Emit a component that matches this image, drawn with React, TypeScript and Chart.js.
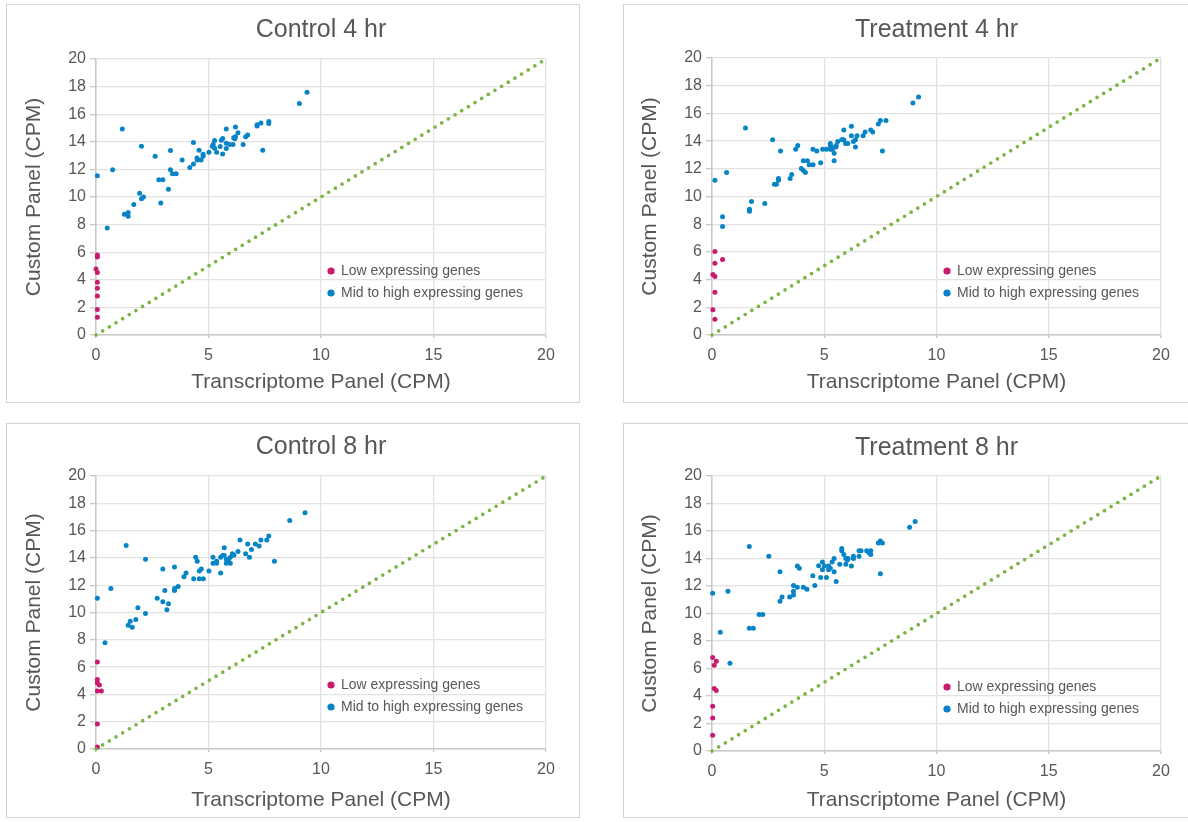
import React, { useEffect, useRef } from "react";
import { Chart, registerables } from "chart.js";

Chart.register(...registerables);

type Pt = [number, number];

// ---- Data ----
const control4Low: Pt[] = [
  [0.06, 5.8], [0.06, 5.66], [0.0, 4.79], [0.06, 4.52], [0.06, 3.82],
  [0.06, 3.38], [0.06, 2.82], [0.06, 1.85], [0.06, 1.29],
];
const control4Mid: Pt[] = [
  [0.06, 11.54], [0.5, 7.75], [0.74, 11.98], [1.17, 14.92], [1.26, 8.75],
  [1.43, 8.87], [1.43, 8.6], [1.68, 9.45], [1.94, 10.28], [2.02, 13.68],
  [2.02, 9.87], [2.11, 10.0], [2.63, 12.95], [2.79, 11.25], [2.97, 11.25],
  [2.88, 9.57], [3.22, 10.57], [3.31, 13.37], [3.31, 11.98], [3.4, 11.69],
  [3.56, 11.69], [3.83, 12.69], [4.17, 12.13], [4.33, 13.95], [4.33, 12.39],
  [4.49, 12.83], [4.5, 12.69], [4.67, 12.69], [4.58, 13.39], [4.76, 13.1],
  [4.76, 12.95], [5.02, 13.24], [5.17, 13.68], [5.21, 13.8], [5.27, 13.54],
  [5.27, 14.09], [5.36, 13.24], [5.52, 13.66], [5.57, 14.12], [5.63, 13.12],
  [5.63, 14.24], [5.79, 14.92], [5.79, 13.9], [5.79, 13.51], [5.94, 13.8],
  [6.09, 13.8], [6.12, 14.29], [6.17, 14.22], [6.2, 14.36], [6.2, 15.07],
  [6.31, 14.65], [6.54, 13.8], [6.65, 14.36], [6.74, 14.5], [7.16, 15.14],
  [7.16, 15.24], [7.33, 15.36], [7.41, 13.39], [7.68, 15.48], [7.68, 15.33],
  [9.04, 16.77], [9.38, 17.59],
];

const treatment4Low: Pt[] = [
  [0.13, 6.02], [0.13, 5.18], [0.47, 5.45], [0.04, 4.36], [0.13, 4.22],
  [0.13, 3.08], [0.04, 1.83], [0.13, 1.13],
];
const treatment4Mid: Pt[] = [
  [0.13, 11.18], [0.65, 11.73], [0.47, 8.53], [0.47, 7.83], [1.49, 14.94],
  [1.67, 9.08], [1.67, 8.94], [1.76, 9.64], [2.35, 9.49], [2.7, 14.1],
  [2.78, 10.89], [2.87, 10.89], [2.96, 11.3], [2.96, 11.18], [3.05, 13.28],
  [3.48, 11.3], [3.55, 11.59], [3.73, 13.42], [3.82, 13.69], [3.98, 12.02],
  [4.07, 11.88], [4.16, 11.73], [4.07, 12.58], [4.25, 12.58], [4.33, 12.29],
  [4.5, 12.29], [4.5, 13.42], [4.67, 13.28], [4.84, 12.43], [4.93, 13.42],
  [5.1, 13.42], [5.27, 13.83], [5.27, 13.69], [5.33, 13.57], [5.27, 13.42],
  [5.36, 13.42], [5.44, 13.13], [5.44, 12.58], [5.52, 13.57], [5.53, 13.69],
  [5.6, 13.98], [5.78, 14.1], [5.87, 14.1], [5.87, 14.8], [5.95, 13.83],
  [6.05, 13.83], [6.21, 14.39], [6.21, 15.08], [6.3, 13.98], [6.39, 14.1],
  [6.46, 14.39], [6.39, 13.57], [6.73, 14.39], [6.82, 14.65], [7.07, 14.8],
  [7.16, 14.65], [7.41, 15.23], [7.5, 15.49], [7.75, 15.49], [7.59, 13.28],
  [8.95, 16.75], [9.2, 17.18],
];

const control8Low: Pt[] = [
  [0.06, 6.37], [0.06, 5.1], [0.06, 4.83], [0.15, 4.68], [0.06, 4.24],
  [0.24, 4.24], [0.06, 1.84], [0.06, 0.15],
];
const control8Mid: Pt[] = [
  [0.06, 11.05], [0.4, 7.79], [0.66, 11.76], [1.34, 14.9], [1.43, 9.07],
  [1.52, 9.36], [1.61, 8.92], [1.77, 9.49], [1.86, 10.34], [2.2, 9.93],
  [2.2, 13.9], [2.72, 11.05], [2.97, 13.19], [2.97, 10.78], [3.06, 11.62],
  [3.15, 10.2], [3.22, 10.64], [3.49, 13.33], [3.49, 11.62], [3.49, 11.76],
  [3.65, 11.91], [3.91, 12.62], [4.0, 12.89], [4.34, 12.48], [4.43, 14.04],
  [4.5, 13.75], [4.59, 13.04], [4.68, 13.19], [4.59, 12.48], [4.77, 12.48],
  [5.02, 13.04], [5.2, 14.04], [5.2, 13.6], [5.36, 13.6], [5.36, 13.75],
  [5.54, 12.89], [5.54, 14.04], [5.63, 14.17], [5.7, 14.17], [5.7, 14.75],
  [5.79, 13.9], [5.79, 13.6], [5.88, 13.75], [5.97, 13.6], [5.97, 14.04],
  [5.88, 13.9], [6.06, 14.31], [6.13, 14.19], [6.31, 14.46], [6.4, 15.32],
  [6.65, 14.31], [6.74, 15.02], [6.82, 14.04], [6.91, 14.61], [7.08, 15.02],
  [7.25, 14.88], [7.33, 15.32], [7.59, 15.32], [7.68, 15.61], [7.93, 13.75],
  [8.61, 16.74], [9.29, 17.3],
];

const treatment8Low: Pt[] = [
  [0.03, 6.8], [0.19, 6.53], [0.1, 6.23], [0.1, 4.55], [0.19, 4.4],
  [0.03, 3.25], [0.03, 2.4], [0.03, 1.15],
];
const treatment8Mid: Pt[] = [
  [0.03, 11.47], [0.71, 11.61], [0.37, 8.63], [0.8, 6.38], [1.66, 14.87],
  [1.66, 8.92], [1.84, 8.92], [2.1, 9.93], [2.26, 9.93], [2.53, 14.16],
  [3.03, 13.03], [3.03, 10.9], [3.12, 11.2], [3.46, 11.2], [3.63, 11.34],
  [3.63, 11.61], [3.63, 12.03], [3.8, 11.91], [4.07, 11.91], [4.23, 11.76],
  [3.8, 13.45], [3.89, 13.3], [4.49, 12.74], [4.58, 12.03], [4.75, 13.47],
  [4.84, 12.62], [5.1, 12.62], [4.92, 13.74], [4.92, 13.18], [5.01, 13.45],
  [5.19, 13.45], [5.19, 13.18], [5.27, 13.3], [5.35, 13.74], [5.44, 14.0],
  [5.44, 13.03], [5.53, 12.32], [5.69, 13.59], [5.78, 14.72], [5.78, 14.57],
  [5.87, 14.3], [5.96, 14.0], [5.96, 13.59], [6.03, 13.89], [6.06, 14.0],
  [6.21, 13.45], [6.3, 14.0], [6.3, 14.16], [6.55, 14.16], [6.55, 14.57],
  [6.64, 14.57], [6.89, 14.57], [7.07, 14.57], [6.98, 14.43], [7.07, 14.3],
  [7.41, 15.13], [7.5, 15.28], [7.59, 15.13], [7.5, 12.89], [8.8, 16.28],
  [9.05, 16.7],
];

const diagonal: Pt[] = [[0, 0], [20, 20]];

const panelTitles = ["Control 4 hr", "Treatment 4 hr", "Control 8 hr", "Treatment 8 hr"];
const legendLabels = ["Low expressing genes", "Mid to high expressing genes"];
const xAxisTitle = "Transcriptome Panel (CPM)";
const yAxisTitle = "Custom Panel (CPM)";

// ---- Styles ----
const PINK = "#c91a6e";
const BLUE = "#0784c6";
const GREEN = "#7db443";
const TEXT = "#575757";
const GRID = "#e2e2e2";
const AXIS = "#c9c9c9";
const FONT = "'Liberation Sans', Arial, Helvetica, sans-serif";

type PanelLayout = {
  left: number; top: number; width: number; height: number;
  yAxisW: number; padRight: number; xAxisH: number; chartTop: number;
  titleY: number; xTitlePad: number; yTitlePad: number;
};

const layouts: PanelLayout[] = [
  { left: 6, top: 4, width: 574, height: 399, yAxisW: 89, padRight: 33, xAxisH: 67, chartTop: 54, titleY: 25, xTitlePad: 7, yTitlePad: 15 },
  { left: 623, top: 4, width: 567, height: 399, yAxisW: 88, padRight: 28, xAxisH: 67, chartTop: 53, titleY: 25, xTitlePad: 7, yTitlePad: 14 },
  { left: 6, top: 423, width: 574, height: 395, yAxisW: 89, padRight: 33, xAxisH: 68, chartTop: 52, titleY: 23, xTitlePad: 4, yTitlePad: 15 },
  { left: 623, top: 423, width: 567, height: 395, yAxisW: 88, padRight: 28, xAxisH: 66, chartTop: 52, titleY: 24, xTitlePad: 4, yTitlePad: 14 },
];

const seriesByPanel: [Pt[], Pt[]][] = [
  [control4Low, control4Mid],
  [treatment4Low, treatment4Mid],
  [control8Low, control8Mid],
  [treatment8Low, treatment8Mid],
];

const toXY = (arr: Pt[]) => arr.map(([x, y]) => ({ x, y }));

function makeDecorations(title: string, titleY: number) {
  return {
    id: "decorations",
    afterDatasetsDraw(chart: any) {
      const { ctx, chartArea } = chart;
      const colors = [PINK, BLUE];
      ctx.save();
      // Title centred over the plot area
      ctx.font = `25px ${FONT}`;
      ctx.fillStyle = TEXT;
      ctx.textAlign = "center";
      ctx.textBaseline = "middle";
      ctx.fillText(title, (chartArea.left + chartArea.right) / 2, titleY);
      // Legend inside plot area
      ctx.font = `14px ${FONT}`;
      ctx.textAlign = "left";
      legendLabels.forEach((label, i) => {
        const y = chartArea.bottom - 64 + i * 22;
        const x = chartArea.left + 235;
        ctx.beginPath();
        ctx.fillStyle = colors[i];
        ctx.arc(x, y, 3.6, 0, Math.PI * 2);
        ctx.fill();
        ctx.fillStyle = TEXT;
        ctx.fillText(label, x + 10, y + 0.5);
      });
      ctx.restore();
    },
  };
}

function Panel({ index }: { index: number }) {
  const ref = useRef<HTMLCanvasElement | null>(null);
  const L = layouts[index];
  useEffect(() => {
    if (!ref.current) return;
    const [low, mid] = seriesByPanel[index];
    const chart = new Chart(ref.current, {
      type: "scatter",
      data: {
        datasets: [
          {
            type: "line",
            label: "y = x",
            data: toXY(diagonal),
            borderColor: GREEN,
            backgroundColor: GREEN,
            borderWidth: 3.7,
            borderDash: [0, 7.8],
            borderCapStyle: "round",
            pointRadius: 0,
            fill: false,
            clip: false,
          } as any,
          {
            label: legendLabels[0],
            data: toXY(low),
            backgroundColor: PINK,
            borderColor: PINK,
            pointRadius: 2.5,
            pointBorderWidth: 0,
            clip: false,
          } as any,
          {
            label: legendLabels[1],
            data: toXY(mid),
            backgroundColor: BLUE,
            borderColor: BLUE,
            pointRadius: 2.5,
            pointBorderWidth: 0,
            clip: false,
          } as any,
        ],
      },
      options: {
        animation: false,
        responsive: true,
        maintainAspectRatio: false,
        layout: { padding: { left: 0, right: L.padRight, top: L.chartTop, bottom: 0 } },
        plugins: {
          legend: { display: false },
          tooltip: { enabled: false },
          title: { display: false },
        },
        scales: {
          x: {
            type: "linear",
            min: 0,
            max: 20,
            ticks: { stepSize: 5, color: TEXT, font: { family: FONT, size: 16 }, padding: 8 },
            grid: { color: GRID, lineWidth: 1.3, tickLength: 3, tickColor: AXIS },
            border: { color: AXIS, width: 1.5 },
            title: {
              display: true,
              text: xAxisTitle,
              color: TEXT,
              font: { family: FONT, size: 21, lineHeight: 1.2 },
              padding: { top: 0, bottom: L.xTitlePad },
            },
            afterFit: (s: any) => { s.height = L.xAxisH; },
          },
          y: {
            type: "linear",
            min: 0,
            max: 20,
            ticks: { stepSize: 2, color: TEXT, font: { family: FONT, size: 16 }, padding: 4 },
            grid: { color: GRID, lineWidth: 1.3, tickLength: 6, tickColor: AXIS },
            border: { color: AXIS, width: 1.5 },
            title: {
              display: true,
              text: yAxisTitle,
              color: TEXT,
              font: { family: FONT, size: 21, lineHeight: 1.2 },
              padding: { top: L.yTitlePad, bottom: 0 },
            },
            afterFit: (s: any) => { s.width = L.yAxisW; },
          },
        },
      } as any,
      plugins: [makeDecorations(panelTitles[index], L.titleY)],
    });
    return () => chart.destroy();
  }, [index]);

  return (
    <div
      style={{
        position: "absolute",
        left: L.left,
        top: L.top,
        width: L.width,
        height: L.height,
        boxSizing: "border-box",
        border: "1.5px solid #d3d3d3",
        background: "#fff",
      }}
    >
      <div style={{ position: "relative", width: "100%", height: "100%" }}>
        <canvas ref={ref} />
      </div>
    </div>
  );
}

export default function App() {
  return (
    <div
      style={{
        position: "fixed",
        left: 0,
        top: 0,
        width: 1188,
        height: 822,
        overflow: "hidden",
        background: "#fff",
      }}
    >
      {[0, 1, 2, 3].map((i) => (
        <Panel key={i} index={i} />
      ))}
    </div>
  );
}
